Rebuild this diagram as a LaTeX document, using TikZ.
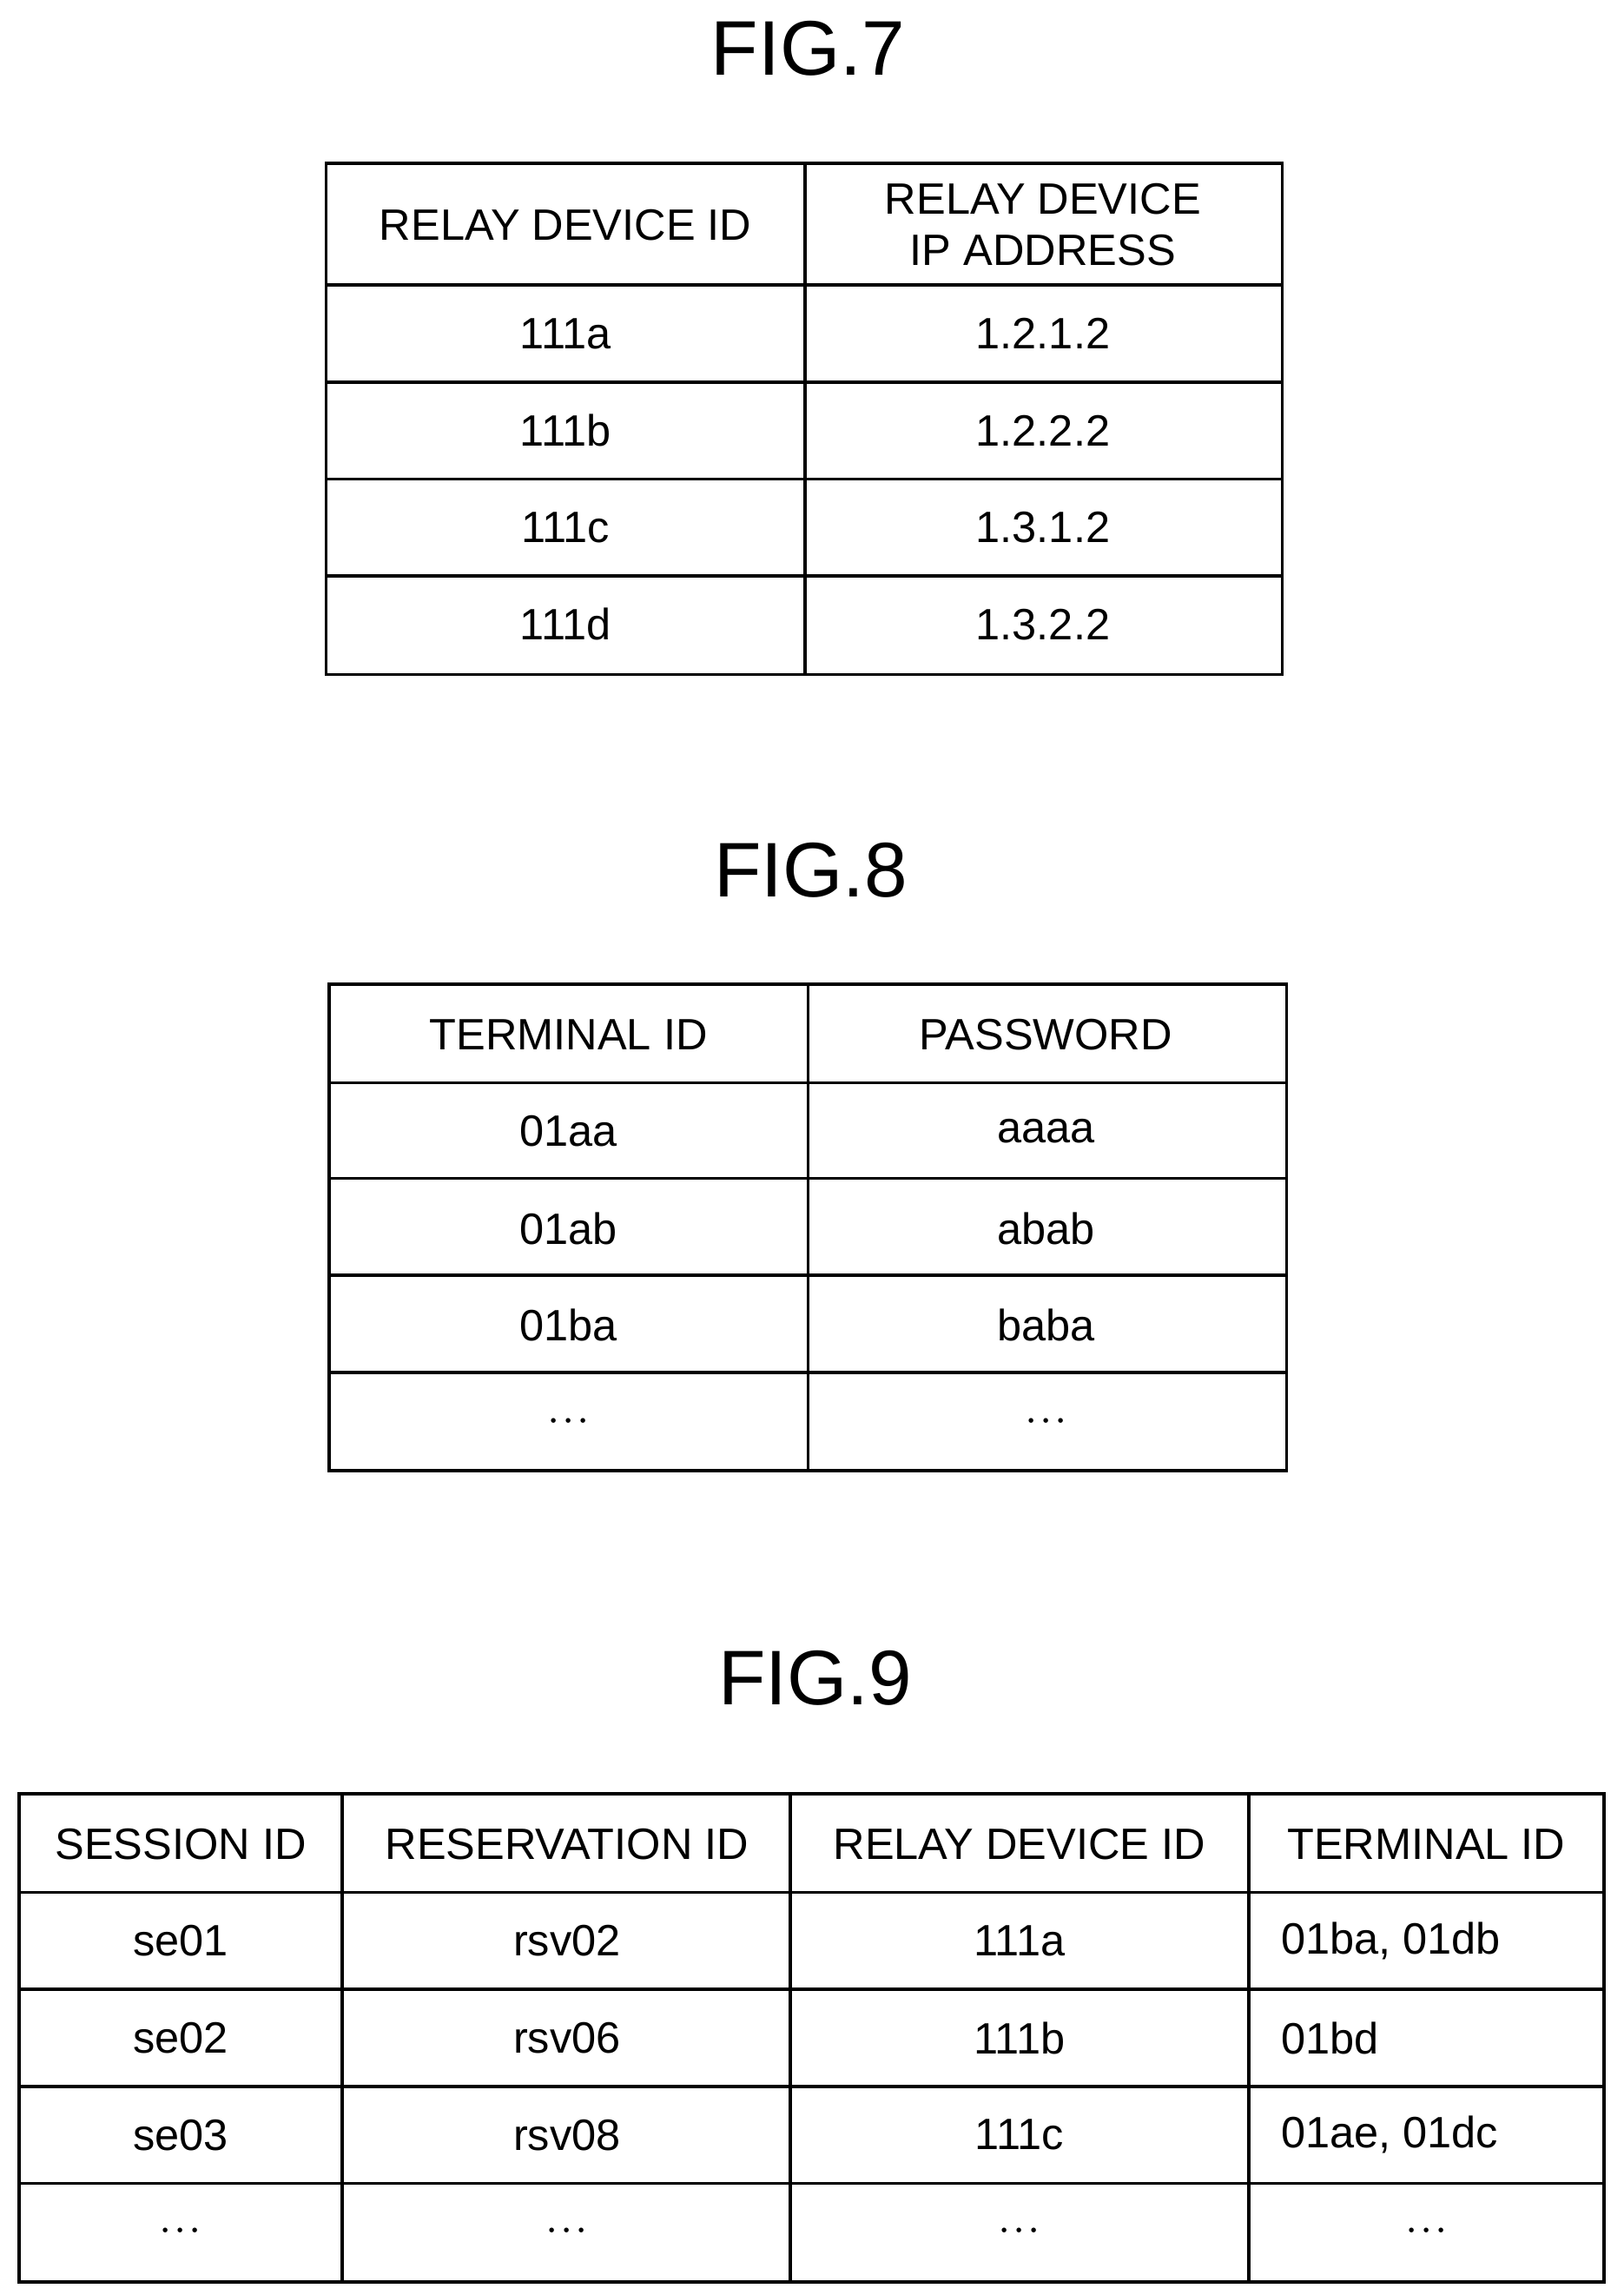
\documentclass[tikz,border=0pt]{standalone}
\usepackage{fontspec}
\setmainfont{Liberation Sans}
\tikzset{
	cell/.style={font=\fontsize{17}{20}\selectfont},
	figtitle/.style={font=\fontsize{30}{34}\selectfont},
	rule/.style={line width=1.2pt}
}
\begin{document}
\begin{tikzpicture}[x=0.02cm,y=-0.02cm]
	\useasboundingbox (0,0) rectangle (1105,1562);
	%FIG.7
	\node[figtitle] (t7) at (550,33) {FIG.7};
	\draw[rule] (222,111) rectangle (873,459);
	\draw[rule] (548,111) -- (548,459);
	\foreach \y in {194,260,326,392}
		\draw[rule] (222,\y) -- (873,\y);
	\node[cell] (h7a) at (385,153) {RELAY DEVICE ID};
	\node[cell,align=center] (h7b) at (710,153) {RELAY DEVICE\\IP ADDRESS};
	\foreach \id/\ip [count=\i] in {111a/1.2.1.2,111b/1.2.2.2,111c/1.3.1.2,111d/1.3.2.2}
	{
		\node[cell] (r7a\i) at (385,161+66*\i) {\id};
		\node[cell] (r7b\i) at (710,161+66*\i) {\ip};
	}
	%FIG.8
	\node[figtitle] (t8) at (552,592) {FIG.8};
	\draw[rule] (224,670) rectangle (876,1001);
	\draw[rule] (550,670) -- (550,1001);
	\foreach \y in {737,802,868,934}
		\draw[rule] (224,\y) -- (876,\y);
	\node[cell] (h8a) at (387,704) {TERMINAL ID};
	\node[cell] (h8b) at (712,704) {PASSWORD};
	\foreach \tid/\pw [count=\i] in {01aa/aaaa,01ab/abab,01ba/baba,\textbf{$\cdot\!\cdot\!\cdot$}/\textbf{$\cdot\!\cdot\!\cdot$}}
	{
		\node[cell] (r8a\i) at (387,704+66*\i) {\tid};
		\node[cell] (r8b\i) at (712,704+66*\i) {\pw};
	}
	%FIG.9
	\node[figtitle] (t9) at (555,1142) {FIG.9};
	\draw[rule] (13,1221) rectangle (1092,1553);
	\foreach \x in {233,538,850}
		\draw[rule] (\x,1221) -- (\x,1553);
	\foreach \y in {1288,1354,1420,1486}
		\draw[rule] (13,\y) -- (1092,\y);
	\node[cell] (h9a) at (123,1255) {SESSION ID};
	\node[cell] (h9b) at (386,1255) {RESERVATION ID};
	\node[cell] (h9c) at (694,1255) {RELAY DEVICE ID};
	\node[cell] (h9d) at (971,1255) {TERMINAL ID};
	\foreach \se/\rsv/\rl/\tm [count=\i] in {se01/rsv02/111a/{01ba, 01db},se02/rsv06/111b/01bd,se03/rsv08/111c/{01ae, 01dc}}
	{
		\node[cell] (r9a\i) at (123,1255+66*\i) {\se};
		\node[cell] (r9b\i) at (386,1255+66*\i) {\rsv};
		\node[cell] (r9c\i) at (694,1255+66*\i) {\rl};
		\node[cell,anchor=west] (r9d\i) at (866,1255+66*\i) {\tm};
	}
	\foreach \x [count=\i] in {123,386,694,971}
		\node[cell] (r9e\i) at (\x,1519) {\textbf{$\cdot\!\cdot\!\cdot$}};
\end{tikzpicture}
\end{document}
